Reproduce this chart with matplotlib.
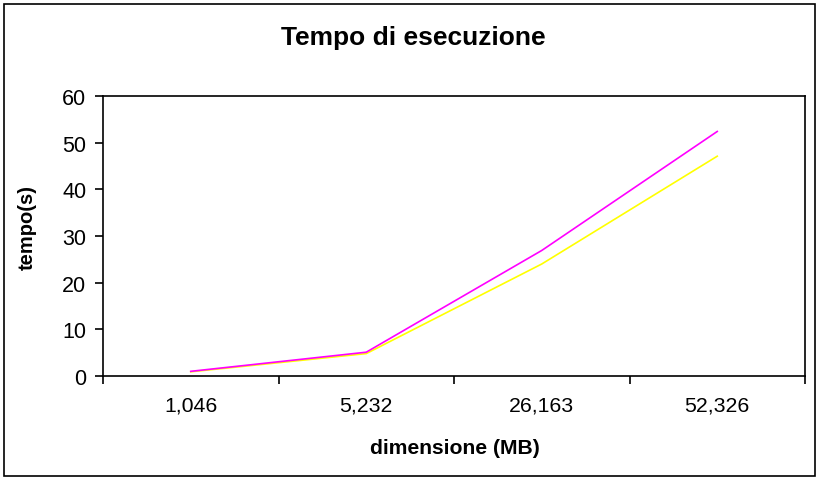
import matplotlib
matplotlib.use("Agg")
import matplotlib.pyplot as plt
from matplotlib.patches import Rectangle

categories = ["1,046", "5,232", "26,163", "52,326"]
serie_magenta = [1.0, 5.1, 26.9, 52.4]
serie_gialla = [0.9, 4.8, 24.0, 47.1]
y_ticks = [0, 10, 20, 30, 40, 50, 60]

plt.rcParams['font.family'] = ['Liberation Sans', 'DejaVu Sans']

W, H = 819, 481
fig = plt.figure(figsize=(W / 100, H / 100), dpi=100)
fig.patch.set_facecolor("white")

# outer chart border
fig.add_artist(Rectangle((4 / W, 1 - 477 / H), (815 - 4) / W, (477 - 5) / H,
                         transform=fig.transFigure, fill=False, edgecolor="black", lw=1.2))

left, right, top, bottom = 103, 805, 97, 377
ax = fig.add_axes([left / W, 1 - bottom / H, (right - left) / W, (bottom - top) / H])

x = list(range(len(categories)))
ax.plot(x, serie_gialla, color="#FFFF00", lw=1.2)
ax.plot(x, serie_magenta, color="#FF00FF", lw=1.2)

ax.set_xlim(-0.5, len(categories) - 0.5)
ax.set_ylim(0, 60)
ax.set_yticks(y_ticks)
ax.set_yticklabels([str(v) for v in y_ticks], fontsize=15.5)

ax.set_xticks([i - 0.5 for i in range(len(categories) + 1)])
ax.set_xticklabels([])
ax.set_xticks(x, minor=True)
ax.set_xticklabels(categories, minor=True, fontsize=15.3)
ax.tick_params(axis="x", which="minor", length=0, pad=14)
ax.tick_params(axis="x", which="major", length=6, width=1.2, direction="out")
ax.tick_params(axis="y", length=6, width=1.2, direction="out", pad=6)

for s in ax.spines.values():
    s.set_linewidth(1.2)
    s.set_color("black")

fig.text(455 / W, 1 - 448 / H, "dimensione (MB)", fontsize=15.2, fontweight="bold",
         ha="center", va="center")
fig.text(27 / W, 1 - 227 / H, "tempo(s)", fontsize=14.5, fontweight="bold",
         ha="center", va="center", rotation=90)

fig.text(413 / W, 1 - 38 / H, "Tempo di esecuzione", fontsize=19, fontweight="bold",
         ha="center", va="center")

fig.savefig("out.png", dpi=100, facecolor="white")
